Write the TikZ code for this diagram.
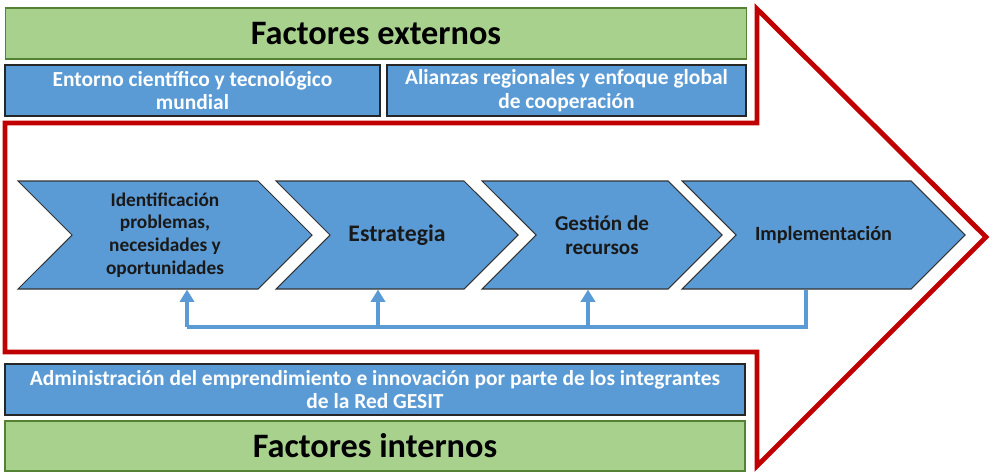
\documentclass[tikz,border=0pt]{standalone}
\usepackage{fontspec}
\setmainfont{Carlito}
\usetikzlibrary{shapes.symbols,arrows.meta}
\definecolor{azul}{HTML}{5B9BD5}
\definecolor{verde}{HTML}{A9D18E}
\definecolor{verdeosc}{HTML}{548235}
\definecolor{rojo}{HTML}{C00000}

\begin{document}
\begin{tikzpicture}[x=0.2mm,y=-0.2mm,
  factor/.style={draw=verdeosc,fill=verde,line width=0.8pt,minimum width=148.2mm,minimum height=10.2mm,inner sep=0pt,font=\fontsize{19.5}{21}\selectfont\bfseries},
  caja/.style={draw=black!85,fill=azul,line width=1pt,minimum height=10.2mm,inner sep=0pt,align=center,text=white,font=\fontsize{12.2}{13.6}\selectfont\bfseries},
  etapa/.style={signal,signal to=east,signal from=west,draw=black!80,fill=azul,line width=0.6pt,minimum height=21.6mm,inner sep=0pt,align=center,text=black!90,font=\fontsize{11.5}{13}\selectfont\bfseries},
  retro/.style={azul,line width=2pt}]
\useasboundingbox (0,0) rectangle (993,474);
% flecha grande
\draw[rojo,line width=2.8pt,line join=miter] (5,123) -- (757,123) -- (757,9) -- (986,237) -- (757,466) -- (757,352) -- (5,352) -- cycle;
% factores externos
\node[factor] (ext) at (376,33.5) {Factores externos};
\node[caja,minimum width=75mm] (ent) at (192.5,90.5) {Entorno científico y tecnológico\\mundial};
\node[caja,minimum width=71.8mm] (ali) at (566.5,90.5) {Alianzas regionales y enfoque global\\de cooperación};
% etapas
\node[etapa,minimum width=58.8mm,font=\fontsize{11}{13}\selectfont\bfseries] (ch1) at (165,235) {Identificación\\problemas,\\necesidades y\\oportunidades};
\node[etapa,minimum width=48.4mm,font=\fontsize{13.5}{15}\selectfont\bfseries] (ch2) at (397,235) {Estrategia};
\node[etapa,minimum width=48mm,font=\fontsize{12}{14}\selectfont\bfseries] (ch3) at (602,235) {Gestión de\\recursos};
\node[etapa,minimum width=56.6mm] (ch4) at (823.5,235) {Implementación};
% retroalimentacion
\coordinate (r1) at (187,327);
\coordinate (r2) at (378,327);
\coordinate (r3) at (588,327);
\coordinate (r4) at (806,327);
\draw[retro] (r4 |- ch4.south) -- (r4) -- (r1);
\draw[retro,-{Triangle[width=8pt,length=7pt]}] (r1) -- (r1 |- ch1.south);
\draw[retro,-{Triangle[width=8pt,length=7pt]}] (r2) -- (r2 |- ch2.south);
\draw[retro,-{Triangle[width=8pt,length=7pt]}] (r3) -- (r3 |- ch3.south);
% factores internos
\node[caja,minimum width=148mm] (adm) at (375,389.5) {Administración del emprendimiento e innovación por parte de los integrantes\\de la Red GESIT};
\node[factor,minimum width=148mm,minimum height=10mm] (int) at (375,446) {Factores internos};
\end{tikzpicture}
\end{document}
